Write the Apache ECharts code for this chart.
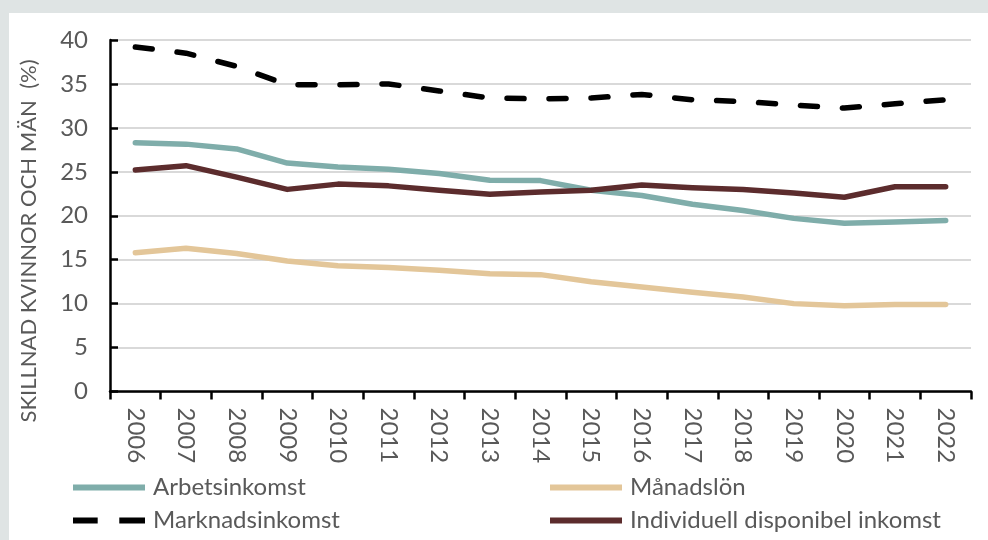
<!DOCTYPE html>
<html>
<head>
<meta charset="utf-8">
<script src="https://cdn.jsdelivr.net/npm/echarts@6/dist/echarts.min.js"></script>
<style>
  html, body { margin: 0; padding: 0; background: #dfe4e4; width: 988px; height: 540px; overflow: hidden; }
  #panel { position: absolute; left: 9px; top: 13px; width: 979px; height: 527px; background: #ffffff; }
  #chart { width: 979px; height: 527px; }
</style>
</head>
<body>
<div id="panel"><div id="chart"></div></div>
<script>
const years = ['2006','2007','2008','2009','2010','2011','2012','2013','2014','2015','2016','2017','2018','2019','2020','2021','2022'];
const arbetsinkomst = [28.3, 28.15, 27.6, 26.0, 25.55, 25.3, 24.8, 24.05, 24.0, 22.9, 22.3, 21.3, 20.6, 19.7, 19.15, 19.3, 19.45];
const manadslon = [15.8, 16.3, 15.7, 14.85, 14.3, 14.1, 13.8, 13.4, 13.3, 12.5, 11.9, 11.3, 10.75, 10.0, 9.75, 9.9, 9.9];
const marknadsinkomst = [39.2, 38.5, 37.0, 34.9, 34.9, 35.0, 34.2, 33.4, 33.3, 33.4, 33.8, 33.2, 33.0, 32.6, 32.25, 32.75, 33.2];
const individuell = [25.2, 25.7, 24.4, 23.0, 23.6, 23.4, 22.9, 22.45, 22.7, 22.9, 23.5, 23.2, 23.0, 22.6, 22.1, 23.3, 23.3];
const yTicks = [0, 5, 10, 15, 20, 25, 30, 35, 40];
const yTitle = 'SKILLNAD KVINNOR OCH MÄN  (%)';

const FONT = 'Lato';
const TXT = '#595959';
const C_ARB = '#7fadaa';
const C_MAN = '#e3c699';
const C_MAR = '#000000';
const C_IND = '#5c2c2d';

const ICON_SOLID = 'path://M0,0L72,0L72,6L0,6Z';
const ICON_DASH = 'path://M0,0L24,0L24,6L0,6Z M45,0L70,0L70,6L45,6Z';

const chart = echarts.init(document.getElementById('chart'), null, { renderer: 'canvas' });
const lineW = 5.5;
function mk(name, data, color, dashed) {
  return {
    name: name, type: 'line', data: data, symbol: 'none', smooth: false,
    lineStyle: dashed
      ? { color: color, width: lineW, type: [17, 25], cap: 'round', join: 'round' }
      : { color: color, width: lineW, cap: 'round', join: 'round' },
    itemStyle: { color: color },
    emphasis: { disabled: true }
  };
}
function item(name, icon, color) {
  return { name: name, icon: icon,
    itemStyle: { color: color, borderWidth: 0, borderColor: 'transparent', borderType: 'solid' } };
}
function legend(left, items) {
  return {
    orient: 'vertical', left: left, top: 461, padding: 0, itemWidth: 72, itemHeight: 6, itemGap: 6,
    symbolKeepAspect: false,
    itemStyle: { borderWidth: 0, borderType: 'solid' },
    lineStyle: { width: 0, type: 'solid' },
    textStyle: { fontFamily: FONT, fontSize: 24, color: TXT, padding: [0, 0, 0, 3], lineHeight: 27 },
    selectedMode: false,
    data: items
  };
}
chart.setOption({
  animation: false,
  textStyle: { fontFamily: FONT },
  grid: { left: 101, right: 17, top: 27, bottom: 148.5, containLabel: false },
  graphic: [{
    type: 'text', x: 20, y: 228, rotation: Math.PI / 2,
    style: { text: yTitle, fontFamily: FONT, fontSize: 22, fill: TXT, textAlign: 'center', textVerticalAlign: 'middle' }
  }],
  legend: [
    legend(64, [
      item('Arbetsinkomst', ICON_SOLID, C_ARB),
      item('Marknadsinkomst', ICON_DASH, C_MAR)
    ]),
    legend(541, [
      item('Månadslön', ICON_SOLID, C_MAN),
      item('Individuell disponibel inkomst', ICON_SOLID, C_IND)
    ])
  ],
  xAxis: {
    type: 'category', data: years, boundaryGap: true,
    axisLine: { lineStyle: { color: '#000', width: 2.5 } },
    axisTick: { show: true, inside: false, length: 8, alignWithLabel: false, lineStyle: { color: '#000', width: 2.5 } },
    axisLabel: { rotate: -90, margin: 16, fontFamily: FONT, fontSize: 24, color: TXT, interval: 0 },
    splitLine: { show: false }
  },
  yAxis: {
    type: 'value', min: 0, max: 40, interval: 5,
    axisLine: { show: true, lineStyle: { color: '#000', width: 2.5 } },
    axisTick: { show: true, inside: true, length: 8, lineStyle: { color: '#000', width: 2.5 } },
    axisLabel: { margin: 22, fontFamily: FONT, fontSize: 24, color: TXT,
      formatter: function (v) { return yTicks.indexOf(v) >= 0 ? String(v) : ''; } },
    splitLine: { show: true, lineStyle: { color: '#d9d9d9', width: 2 } }
  },
  series: [
    mk('Arbetsinkomst', arbetsinkomst, C_ARB, false),
    mk('Månadslön', manadslon, C_MAN, false),
    mk('Marknadsinkomst', marknadsinkomst, C_MAR, true),
    mk('Individuell disponibel inkomst', individuell, C_IND, false)
  ]
});
</script>
</body>
</html>
